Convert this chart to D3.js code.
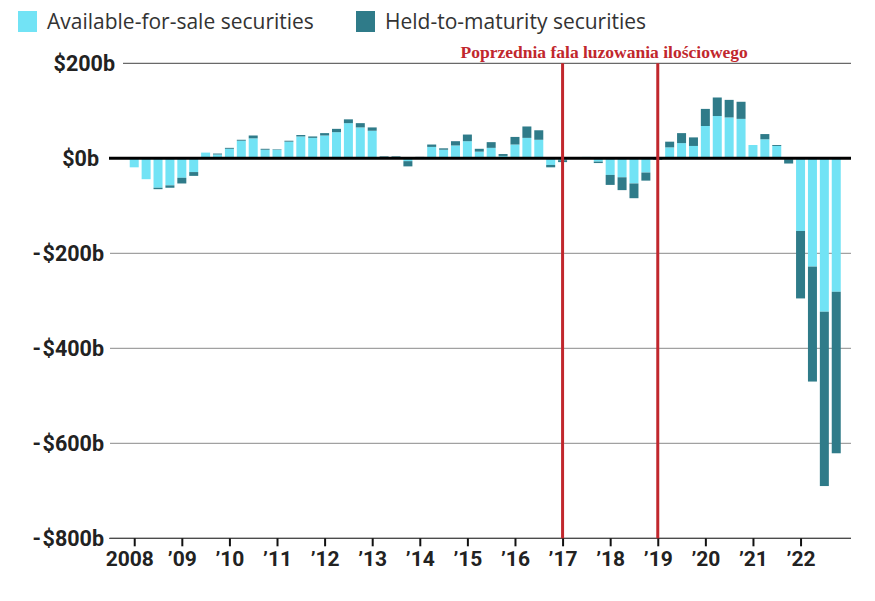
<!DOCTYPE html>
<html>
<head>
<meta charset="utf-8">
<script src="https://cdn.jsdelivr.net/npm/d3@7/dist/d3.min.js"></script>
<style>
  html, body { margin: 0; padding: 0; background: #fff; }
  svg { display: block; }
</style>
</head>
<body>
<svg id="chart" width="875" height="601"></svg>
<script>
// ---- Data (US banks' unrealized gains/losses, $ billions, quarterly 2008Q1–2022Q4) ----
const years = d3.range(2008, 2023);
const quarters = years.flatMap(y => [0, 1, 2, 3].map(q => y + q * 0.25));
const tickLabels = ["2008", "’09", "’10", "’11", "’12", "’13", "’14", "’15", "’16", "’17", "’18", "’19", "’20", "’21", "’22"];
const afs = [
  -19, -44, -62, -57, -41, -29, 12, 8, 20, 37, 42, 18, 18, 35, 46, 43,
  48, 55, 74, 65, 58, 2, 2, -6, 2, 24, 18, 27, 36, 14, 22, 5,
  29, 43, 39, -14, -4, 0, 3, -7, -35, -40, -53, -30, -1, 23, 32, 26,
  68, 89, 86, 83, 28, 40, 26, -2, -153, -228, -323, -281
];
const htm = [
  0, 0, -3, -5, -12, -8, 0, 2, 2, 2, 6, 2, 1, 2, 3, 3,
  5, 7, 8, 9, 7, 2, 2, -11, 1, 5, 3, 9, 14, 6, 12, 4,
  16, 24, 20, -5, -4, 0, 0, -3, -21, -27, -31, -17, -2, 12, 21, 18,
  36, 39, 37, 36, 0, 11, 2, -9, -142, -242, -367, -340
];
const seriesNames = ["Available-for-sale securities", "Held-to-maturity securities"];
const seriesColors = ["#72e3f5", "#2f7b89"];
const yTicks = [200, 0, -200, -400, -600, -800];
const yTickLabels = ["$200b", "$0b", "-$200b", "-$400b", "-$600b", "-$800b"];
const qeStart = 2017, qeEnd = 2019;
const annotation = "Poprzednia fala luzowania ilościowego";

// ---- Layout ----
const svg = d3.select("#chart");
const x = d3.scaleLinear().domain([2007.47, 2023.06]).range([109, 851]);
const y = d3.scaleLinear().domain([-800, 200]).range([538.3, 63.3]);
const barW = 9;

const table = quarters.map((q, i) => ({ q, afs: afs[i], htm: htm[i] }));
const stack = d3.stack().keys(["afs", "htm"]).offset(d3.stackOffsetDiverging);
const stacked = stack(table);

// gridlines
const grid = svg.append("g");
yTicks.forEach((t) => {
  if (t === 0) return;
  const x0 = t === 200 ? 123 : 110;
  grid.append("line")
    .attr("x1", x0).attr("x2", 851)
    .attr("y1", y(t)).attr("y2", y(t))
    .attr("stroke", (t === 200 || t === -800) ? "#444" : "#8a8a8a")
    .attr("stroke-width", 1);
});

// y labels
const labelEnd = { "200": 115, "0": 99 };
const yl = svg.append("g").selectAll("text").data(yTicks).join("text")
  .attr("x", d => labelEnd[d] !== undefined ? labelEnd[d] : 104)
  .attr("y", d => y(d))
  .attr("dy", "0.36em")
  .attr("text-anchor", "end")
  .attr("font-family", "Roboto, 'Noto Sans', sans-serif")
  .attr("font-weight", "bold")
  .attr("font-size", 21.5)
  .attr("fill", "#222");
yl.each(function (d, i) {
  const lab = yTickLabels[i];
  const t = d3.select(this);
  if (lab.startsWith("-")) {
    t.append("tspan").text("-");
    t.append("tspan").attr("dx", 1.5).text(lab.slice(1));
  } else {
    t.text(lab);
  }
});

// bars
svg.append("g").selectAll("g").data(stacked).join("g")
  .attr("fill", (d, i) => seriesColors[i])
  .selectAll("rect").data(d => d).join("rect")
  .attr("x", d => x(d.data.q) - barW / 2)
  .attr("width", barW)
  .attr("y", d => y(Math.max(d[0], d[1])))
  .attr("height", d => Math.abs(y(d[0]) - y(d[1])));

// zero line
svg.append("line")
  .attr("x1", 109).attr("x2", 851)
  .attr("y1", y(0)).attr("y2", y(0))
  .attr("stroke", "#000").attr("stroke-width", 3);

// x axis
const xAxis = d3.axisBottom(x)
  .tickValues(years)
  .tickSize(8)
  .tickFormat((d, i) => tickLabels[i]);
const gx = svg.append("g").attr("transform", `translate(0,${y(-800)})`).call(xAxis);
gx.select(".domain").attr("stroke", "#444").attr("d", `M109,0H851`);
gx.selectAll(".tick line").attr("stroke", "#111").attr("stroke-width", 2);
gx.selectAll(".tick text")
  .attr("y", 13)
  .attr("font-family", "Roboto, 'Noto Sans', sans-serif")
  .attr("font-weight", "bold")
  .attr("font-size", 21)
  .attr("fill", "#222");
gx.selectAll(".tick text").filter((d, i) => i === 0).attr("dx", -5);

// QE markers
[qeStart, qeEnd].forEach(v => {
  svg.append("line")
    .attr("x1", x(v)).attr("x2", x(v))
    .attr("y1", y(200)).attr("y2", y(-800))
    .attr("stroke", "#c1272d").attr("stroke-width", 3);
});
svg.append("text")
  .attr("x", (x(qeStart) + x(qeEnd)) / 2 - 6)
  .attr("y", 58)
  .attr("text-anchor", "middle")
  .attr("font-family", "'Liberation Serif', 'DejaVu Serif', serif")
  .attr("font-weight", "bold")
  .attr("font-size", 17.5)
  .attr("fill", "#c1272d")
  .text(annotation);

// legend
const legendX = [18, 356];
const lg = svg.append("g");
seriesNames.forEach((name, i) => {
  lg.append("rect")
    .attr("x", legendX[i]).attr("y", 11)
    .attr("width", 19).attr("height", 21)
    .attr("fill", seriesColors[i]);
  lg.append("text")
    .attr("x", legendX[i] + 29).attr("y", 28.5)
    .attr("font-family", "'Open Sans', 'Noto Sans', sans-serif")
    .attr("font-size", 21)
    .attr("fill", "#333")
    .text(name);
});
</script>
</body>
</html>
